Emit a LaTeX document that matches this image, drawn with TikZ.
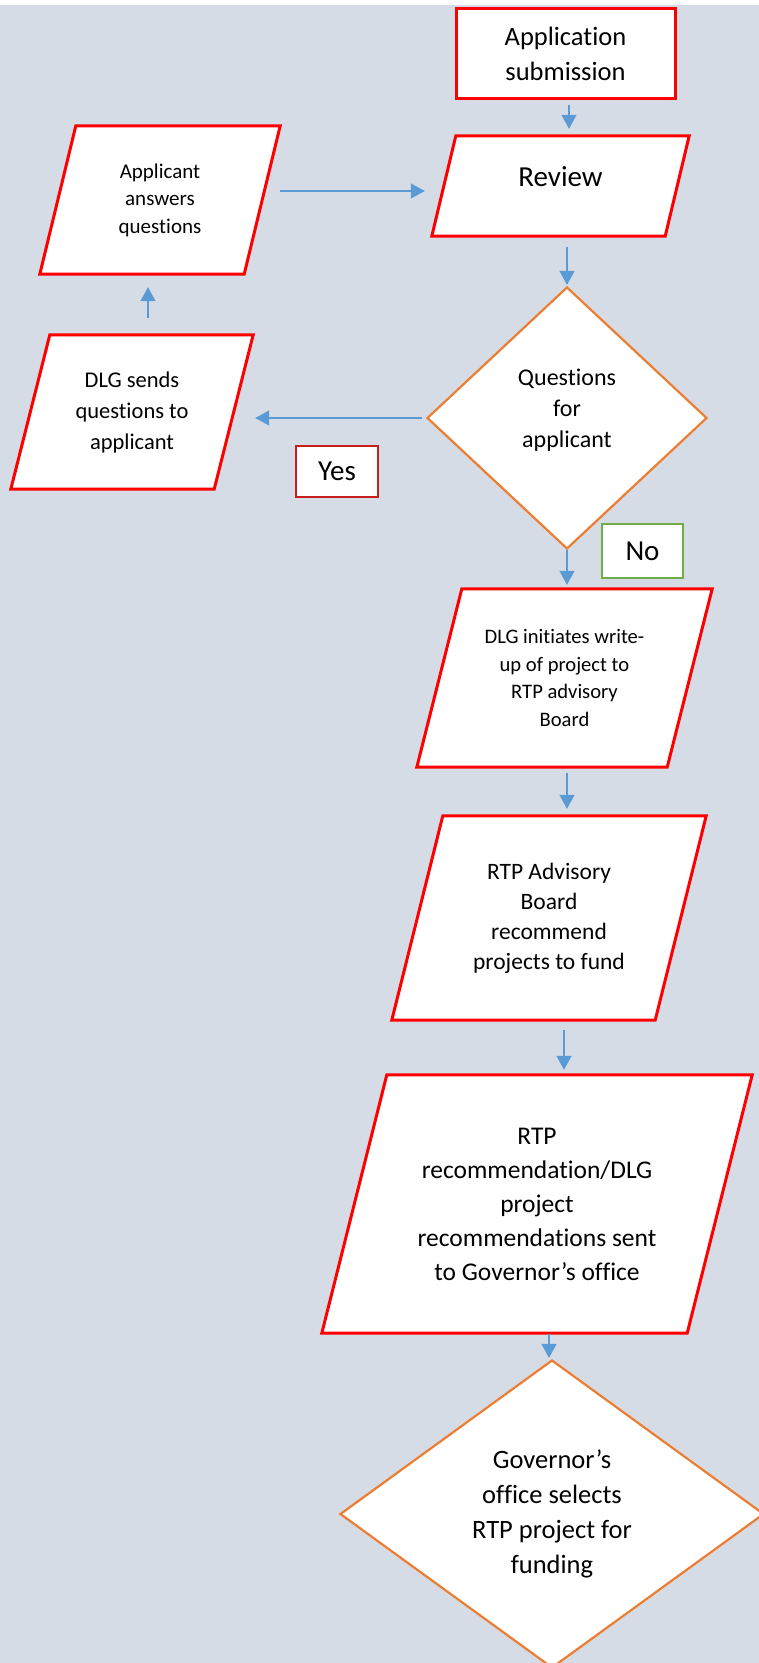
\documentclass[tikz,border=0pt]{standalone}
\usepackage{fontspec}
\setmainfont[Ligatures=NoCommon]{Carlito}
\usetikzlibrary{shapes.geometric,arrows.meta}

\definecolor{paneblue}{HTML}{D6DCE5}
\definecolor{boxred}{HTML}{FF0000}
\definecolor{tagred}{HTML}{C81E1E}
\definecolor{taggreen}{HTML}{70AD47}
\definecolor{lineorange}{HTML}{ED7D31}
\definecolor{flowblue}{HTML}{5B9BD5}

\pgfdeclarelayer{back}
\pgfdeclarelayer{shapes}
\pgfsetlayers{back,shapes,main}

\tikzset{
	startbox/.style 2 args={draw=boxred, line width=3bp, fill=white, minimum width=#1bp, minimum height=#2bp, inner sep=0pt, align=center},
	parabox/.style 2 args={minimum width=#1bp, minimum height=#2bp, inner sep=0pt, align=center},
	redline/.style={draw=boxred, line width=3bp, fill=white, line join=miter},
	decision/.style 2 args={diamond, draw=lineorange, line width=2.2bp, fill=white, minimum width=#1bp, minimum height=#2bp, inner sep=0pt, align=center},
	tag/.style={draw=#1, line width=1.2bp, fill=white, inner sep=0pt, font=\fontsize{29bp}{35bp}\selectfont},
	flow/.style={draw=flowblue, line width=1.2bp, -{Triangle[length=14bp,width=15bp]}}
}

\begin{document}
\begin{tikzpicture}[x=1bp,y=-1bp]
	\useasboundingbox (0,0) rectangle (759,1663);
	\clip (0,0) rectangle (759,1663);
	\begin{pgfonlayer}{back}
		\fill [white] (0,0) rectangle (759,5);
		\fill [paneblue] (0,5) rectangle (759,1663);
	\end{pgfonlayer}

	\node [startbox={219}{90}, font=\fontsize{26.5bp}{35bp}\selectfont] (submit) at (565.5,53.5) {Application\\submission};
	\node [parabox={257}{100}, font=\fontsize{29bp}{35bp}\selectfont, text depth=18bp] (review) at (560.5,186) {Review};
	\node [parabox={240}{148}, font=\fontsize{21bp}{27.5bp}\selectfont] (answers) at (160,200) {Applicant\\answers\\questions};
	\node [parabox={242}{154}, font=\fontsize{22.5bp}{31bp}\selectfont] (sends) at (132,412) {DLG sends\\questions to\\applicant};
	\node [decision={280}{262}, font=\fontsize{24bp}{31bp}\selectfont, text depth=19bp] (quest) at (567,418) {Questions\\for\\applicant};
	\node [tag=tagred, minimum width=82bp, minimum height=51bp] (yes) at (337,471.5) {Yes};
	\node [tag=taggreen, minimum width=81bp, minimum height=54bp] (no) at (642.5,551) {No};
	\node [parabox={295}{178}, font=\fontsize{20.6bp}{27.5bp}\selectfont] (initiates) at (564.5,678) {DLG initiates write-\\up of project to\\RTP advisory\\Board};
	\node [parabox={314}{204}, font=\fontsize{23.5bp}{30bp}\selectfont] (advisory) at (549,918) {RTP Advisory\\Board\\recommend\\projects to fund};
	\node [parabox={430}{258}, font=\fontsize{25.5bp}{34bp}\selectfont] (recomm) at (537,1204) {RTP\\recommendation/DLG\\project\\recommendations sent\\to Governor’s office};
	\node [decision={424}{308}, font=\fontsize{26.5bp}{35bp}\selectfont] (governor) at (552,1514) {Governor’s\\office selects\\RTP project for\\funding};

	\begin{pgfonlayer}{shapes}
		\foreach \n/\s in {review/24,answers/36,sends/39,initiates/45,advisory/51,recomm/65}
			\draw [redline] ([xshift=\s bp]\n.north west) -- (\n.north east) -- ([xshift=-\s bp]\n.south east) -- (\n.south west) -- cycle;
	\end{pgfonlayer}

	\draw [flow, shorten <=4.5bp, shorten >=7bp] ([xshift=3.5bp]submit.south) -- ([xshift=3.5bp]submit.south |- review.north);
	\draw [flow, shorten >=7bp] ([yshift=9bp]answers.east) -- ([yshift=9bp]answers.east -| review.west);
	\draw [flow, shorten <=11bp, shorten >=1bp] (quest.north |- review.south) -- (quest.north);
	\draw [flow, shorten <=4bp, shorten >=2bp] (quest.west) -- (quest.west -| sends.east);
	\draw [flow, shorten <=17bp, shorten >=13bp] ([xshift=16bp]sends.north) -- ([xshift=16bp]sends.north |- answers.south);
	\draw [flow, shorten >=4bp] (quest.south) -- (quest.south |- initiates.north);
	\draw [flow, shorten <=6bp, shorten >=7bp] ([xshift=2.5bp]initiates.south) -- ([xshift=2.5bp]initiates.south |- advisory.north);
	\draw [flow, shorten <=10bp, shorten >=5bp] ([xshift=15bp]advisory.south) -- ([xshift=15bp]advisory.south |- recomm.north);
	\draw [flow, shorten <=1bp, shorten >=1bp] ([xshift=12bp]recomm.south) -- ([xshift=12bp]recomm.south |- governor.north);
\end{tikzpicture}
\end{document}
